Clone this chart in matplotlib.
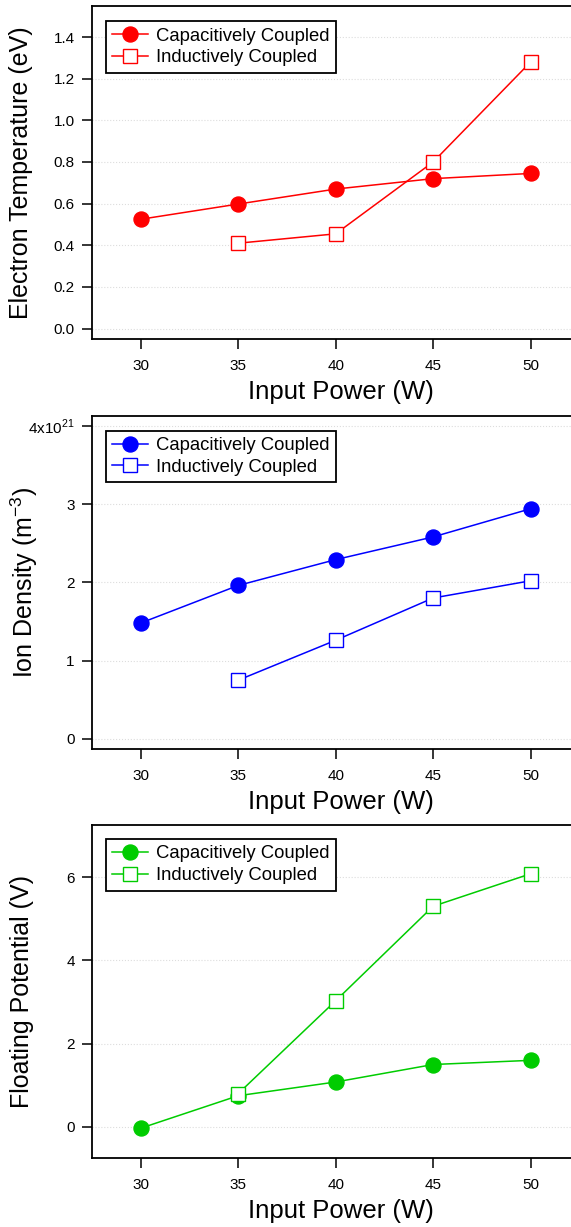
import matplotlib
matplotlib.use("Agg")
import matplotlib.pyplot as plt
from matplotlib.ticker import FixedLocator

plt.rcParams['font.family'] = ['Liberation Sans', 'DejaVu Sans']
plt.rcParams['mathtext.fontset'] = 'custom'
plt.rcParams['mathtext.rm'] = 'Liberation Sans'

power = [30, 35, 40, 45, 50]
power_ind = [35, 40, 45, 50]

te_cap = [0.525, 0.598, 0.670, 0.720, 0.745]
te_ind = [0.410, 0.455, 0.800, 1.280]

ni_cap = [1.48, 1.96, 2.29, 2.58, 2.94]
ni_ind = [0.75, 1.26, 1.80, 2.02]

vf_cap = [-0.03, 0.75, 1.08, 1.50, 1.60]
vf_ind = [0.80, 3.03, 5.30, 6.08]

fig = plt.figure(figsize=(5.71, 12.27), dpi=100)

panels = [
    dict(rect=[0.1606, 0.7237, 0.8394, 0.2716], cap=te_cap, ind=te_ind, color='#ff0000',
         ylim=(-0.05, 1.55), yticks=[0.0, 0.2, 0.4, 0.6, 0.8, 1.0, 1.2, 1.4],
         ylabels=['0.0', '0.2', '0.4', '0.6', '0.8', '1.0', '1.2', '1.4'],
         ylabel='Electron Temperature (eV)', labx=-0.122, legy=0.954),
    dict(rect=[0.1606, 0.3896, 0.8394, 0.2716], cap=ni_cap, ind=ni_ind, color='#0000ff',
         ylim=(-0.128, 4.128), yticks=[0, 1, 2, 3, 4],
         ylabels=['0', '1', '2', '3', r'4x10$^{\mathregular{21}}$'],
         ylabel=r'Ion Density (m$^{\mathregular{-3}}$)', labx=-0.108, legy=0.955),
    dict(rect=[0.1606, 0.0565, 0.8394, 0.2711], cap=vf_cap, ind=vf_ind, color='#00cc00',
         ylim=(-0.737, 7.25), yticks=[0, 2, 4, 6],
         ylabels=['0', '2', '4', '6'],
         ylabel='Floating Potential (V)', labx=-0.12, legy=0.958),
]

for p in panels:
    ax = fig.add_axes(p['rect'])
    c = p['color']
    ax.plot(power, p['cap'], '-o', color=c, lw=1.1, ms=10.8,
            label='Capacitively Coupled', zorder=3)
    ax.plot(power_ind, p['ind'], '-s', color=c, lw=1.1, ms=10.4,
            mfc='white', mec=c, mew=1.0, label='Inductively Coupled', zorder=4)
    ax.set_xlim(27.49, 52.07)
    ax.set_ylim(*p['ylim'])
    ax.set_xticks(power)
    ax.set_xticklabels([str(x) for x in power])
    ax.yaxis.set_major_locator(FixedLocator(p['yticks']))
    ax.set_yticklabels(p['ylabels'])
    ax.grid(axis='y', color='#dddddd', ls=':', lw=0.8)
    ax.tick_params(direction='out', length=7.2, width=1.1, labelsize=11,
                   top=False, right=False)
    ax.tick_params(axis='x', pad=7.5)
    ax.tick_params(axis='y', pad=5)
    for s in ax.spines.values():
        s.set_linewidth(1.3)
    ax.spines['right'].set_visible(False)
    ax.set_xlabel('Input Power (W)', fontsize=18.5, labelpad=5)
    ax.xaxis.label.set_x(0.52)
    ax.set_ylabel(p['ylabel'], fontsize=18)
    ax.yaxis.set_label_coords(p['labx'], 0.5)
    leg = ax.legend(loc='upper left', bbox_to_anchor=(0.029, p['legy']), borderaxespad=0,
                    fontsize=13.3, fancybox=False, edgecolor='black', framealpha=1,
                    handlelength=1.93, handletextpad=0.43, borderpad=0.35,
                    labelspacing=0.25)
    leg.get_frame().set_linewidth(1.3)

fig.savefig('out.png', dpi=100)
